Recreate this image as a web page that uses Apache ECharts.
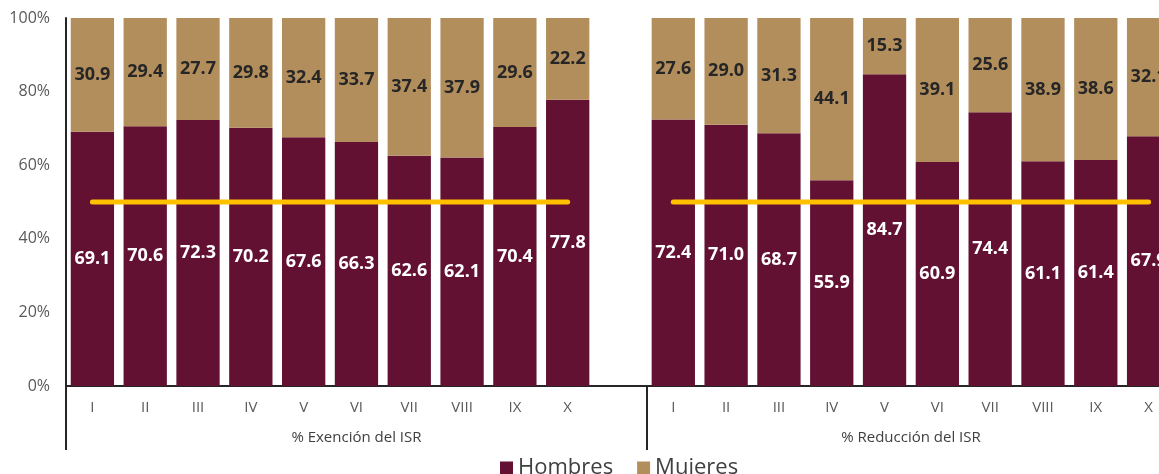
<!DOCTYPE html>
<html>
<head>
<meta charset="utf-8">
<script src="https://cdn.jsdelivr.net/npm/echarts@6/dist/echarts.min.js"></script>
<style>
  html, body { margin: 0; padding: 0; background: #fff; }
  #chart { width: 1159px; height: 474px; }
</style>
</head>
<body>
<div id="chart"></div>
<script>
// categorias: dos grupos de deciles con un hueco en medio
var deciles = ['I', 'II', 'III', 'IV', 'V', 'VI', 'VII', 'VIII', 'IX', 'X'];
var grupos = ['% Exención del ISR', '% Reducción del ISR'];

var hombresExencion = [69.1, 70.6, 72.3, 70.2, 67.6, 66.3, 62.6, 62.1, 70.4, 77.8];
var mujeresExencion = [30.9, 29.4, 27.7, 29.8, 32.4, 33.7, 37.4, 37.9, 29.6, 22.2];
var hombresReduccion = [72.4, 71.0, 68.7, 55.9, 84.7, 60.9, 74.4, 61.1, 61.4, 67.9];
var mujeresReduccion = [27.6, 29.0, 31.3, 44.1, 15.3, 39.1, 25.6, 38.9, 38.6, 32.1];
var referencia = 50;

var categorias = deciles.concat(['']).concat(deciles);
var hombres = hombresExencion.concat(['-']).concat(hombresReduccion);
var mujeres = mujeresExencion.concat(['-']).concat(mujeresReduccion);
var linea = deciles.map(function () { return referencia; })
  .concat(['-'])
  .concat(deciles.map(function () { return referencia; }));

var fuente = '"Open Sans", "Noto Sans", sans-serif';
var fmt = function (p) { return Number(p.value).toFixed(1); };

var chart = echarts.init(document.getElementById('chart'));
chart.setOption({
  animation: false,
  textStyle: { fontFamily: fuente },
  // el grafico original se corta por la derecha
  grid: { left: 66, top: 18, width: 1109, bottom: 88, outerBoundsMode: 'none' },
  legend: {
    bottom: -10,
    left: 495,
    itemWidth: 13,
    itemHeight: 13,
    itemGap: 24,
    icon: 'rect',
    data: ['Hombres', 'Mujeres'],
    textStyle: { fontSize: 22, color: '#404040', fontFamily: fuente }
  },
  xAxis: [{
    type: 'category',
    data: categorias,
    axisLine: { lineStyle: { color: '#262626', width: 2 } },
    axisTick: { show: false },
    axisLabel: { color: '#595959', fontSize: 15, margin: 14, interval: 0 }
  }, {
    type: 'value',
    min: 0,
    max: 21,
    position: 'bottom',
    axisLine: { show: false },
    splitLine: { show: false },
    axisTick: {
      show: true,
      length: 64,
      customValues: [0, 11],
      lineStyle: { color: '#262626', width: 2 }
    },
    axisLabel: {
      color: '#404040',
      fontSize: 15,
      margin: 44,
      customValues: [5.5, 16],
      formatter: function (v) { return v < 11 ? grupos[0] : grupos[1]; }
    }
  }],
  yAxis: {
    type: 'value',
    min: 0,
    max: 100,
    interval: 20,
    axisLine: { show: true, lineStyle: { color: '#262626', width: 2 } },
    axisTick: { show: false },
    splitLine: { show: false },
    axisLabel: { formatter: '{value}%', color: '#595959', fontSize: 16, margin: 16 }
  },
  series: [{
    name: 'Hombres',
    type: 'bar',
    stack: 'total',
    data: hombres,
    barCategoryGap: '18%',
    itemStyle: { color: '#621132' },
    label: {
      show: true,
      position: 'inside',
      formatter: fmt,
      color: '#fff',
      fontWeight: 'bold',
      fontSize: 18
    }
  }, {
    name: 'Mujeres',
    type: 'bar',
    stack: 'total',
    data: mujeres,
    itemStyle: { color: '#B38E5D' },
    label: {
      show: true,
      position: 'inside',
      formatter: fmt,
      color: '#262626',
      fontWeight: 'bold',
      fontSize: 18
    }
  }, {
    name: 'ref',
    type: 'line',
    data: linea,
    symbol: 'none',
    connectNulls: false,
    lineStyle: { color: '#FFC000', width: 5, cap: 'round' },
    z: 5
  }]
});
</script>
</body>
</html>
